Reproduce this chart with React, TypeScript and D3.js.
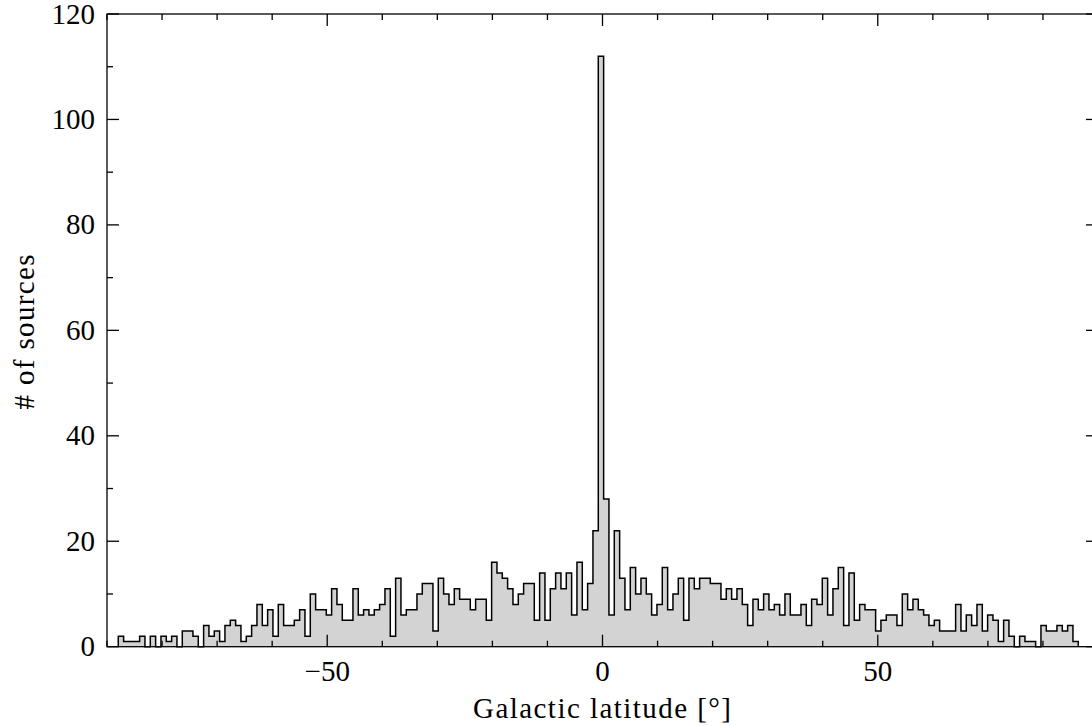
import React from 'react';
import * as d3 from 'd3';

// Histogram counts: 180 equal-width bins between binLo and binHi (degrees)
const counts: number[] = [
  2, 1, 1, 1, 2, 0, 2, 0, 2, 1, 2, 0, 3, 3, 2, 0,
  4, 2, 3, 1, 4, 5, 4, 1, 2, 4, 8, 4, 7, 2, 8, 4, 4, 5, 7, 2,
  10, 7, 7, 6, 11, 8, 5, 5, 11, 6, 7, 6, 7, 8, 11, 2, 13, 6, 7, 7,
  10, 12, 12, 3, 13, 10, 8, 11, 9, 9, 7, 9, 9, 5, 16, 14,
  13, 11, 8, 10, 12, 12, 5, 14, 5, 11, 14, 11, 14, 6, 16, 7, 12, 22,
  112,
  28, 6, 22, 13, 7, 15, 10, 13, 10, 6, 8, 15, 7, 10, 13, 5, 13, 11, 13, 13,
  12, 12, 9, 11, 9, 11, 8, 4,
  9, 7, 10, 7, 8, 6, 10, 6, 6, 8, 4, 9, 8, 13, 6,
  11, 15, 4, 14, 5, 8, 7, 7, 3, 5, 6, 6, 4, 10, 7, 9, 7, 6, 4, 5,
  3, 3, 3, 8, 3, 6, 4, 8, 3, 6, 5, 1, 5, 2, 0, 2, 1, 1, 0, 4,
  3, 3, 4, 3, 4, 1,
];
const binLo = -87.95;
const binHi = 86.42;

const xDomain: [number, number] = [-90, 90];
const yDomain: [number, number] = [0, 120];
const xMajorTicks = [-50, 0, 50];
const xMinorTicks = [-90, -80, -70, -60, -40, -30, -20, -10, 10, 20, 30, 40, 60, 70, 80, 90];
const yMajorTicks = [0, 20, 40, 60, 80, 100, 120];
const yMinorTicks = [10, 30, 50, 70, 90, 110];

const xLabel = 'Galactic latitude [°]';
const yLabel = '# of sources';

const fmt = (v: number) => (v < 0 ? '\u2212' + Math.abs(v) : String(v));

export default function App() {
  const W = 1092;
  const H = 726;
  const left = 107;
  const right = 1098;
  const top = 14;
  const bottom = 646.7;
  const x = d3.scaleLinear().domain(xDomain).range([left, right]);
  const y = d3.scaleLinear().domain(yDomain).range([bottom, top]);

  const n = counts.length;
  const edges = d3.range(n + 1).map((i) => binLo + ((binHi - binLo) * i) / n);
  const pts: [number, number][] = [];
  counts.forEach((c, i) => {
    pts.push([edges[i], c]);
    pts.push([edges[i + 1], c]);
  });
  const outlinePts: [number, number][] = [[edges[0], 0], ...pts, [edges[n], 0]];

  const area = d3
    .area<[number, number]>()
    .x((d) => x(d[0]))
    .y0(y(0))
    .y1((d) => y(d[1]));
  const line = d3
    .line<[number, number]>()
    .x((d) => x(d[0]))
    .y((d) => y(d[1]));

  const majorLen = 12;
  const minorLen = 6;
  const font = '"Liberation Serif", "DejaVu Serif", serif';
  const fs = 29;
  const axisStroke = 1.3;

  return (
    <svg
      width={W}
      height={H}
      style={{ position: 'absolute', left: 0, top: 0, background: '#fff' }}
      fontFamily={font}
    >
      <rect x={0} y={0} width={W} height={H} fill="#fff" />
      <path d={area(pts) || ''} fill="#d3d3d3" stroke="none" />
      <path d={line(outlinePts) || ''} fill="none" stroke="#000" strokeWidth={1.5} strokeLinejoin="miter" />

      {/* frame */}
      <rect x={left} y={top} width={right - left} height={bottom - top} fill="none" stroke="#000" strokeWidth={axisStroke} />

      {/* x ticks */}
      {xMajorTicks.map((t) => (
        <g key={'xM' + t}>
          <line x1={x(t)} x2={x(t)} y1={bottom} y2={bottom - majorLen} stroke="#000" strokeWidth={axisStroke} />
          <line x1={x(t)} x2={x(t)} y1={top} y2={top + majorLen} stroke="#000" strokeWidth={axisStroke} />
          <text x={x(t)} y={681} textAnchor="middle" fontSize={fs} fill="#000">
            {fmt(t)}
          </text>
        </g>
      ))}
      {xMinorTicks.map((t) => (
        <g key={'xm' + t}>
          <line x1={x(t)} x2={x(t)} y1={bottom} y2={bottom - minorLen} stroke="#000" strokeWidth={axisStroke} />
          <line x1={x(t)} x2={x(t)} y1={top} y2={top + minorLen} stroke="#000" strokeWidth={axisStroke} />
        </g>
      ))}

      {/* y ticks */}
      {yMajorTicks.map((t) => (
        <g key={'yM' + t}>
          <line x1={left} x2={left + majorLen} y1={y(t)} y2={y(t)} stroke="#000" strokeWidth={axisStroke} />
          <line x1={right} x2={right - majorLen} y1={y(t)} y2={y(t)} stroke="#000" strokeWidth={axisStroke} />
          <text x={95} y={y(t) + 9.5} textAnchor="end" fontSize={fs} fill="#000">
            {fmt(t)}
          </text>
        </g>
      ))}
      {yMinorTicks.map((t) => (
        <g key={'ym' + t}>
          <line x1={left} x2={left + minorLen} y1={y(t)} y2={y(t)} stroke="#000" strokeWidth={axisStroke} />
          <line x1={right} x2={right - minorLen} y1={y(t)} y2={y(t)} stroke="#000" strokeWidth={axisStroke} />
        </g>
      ))}

      {/* axis labels */}
      <text x={602} y={718} textAnchor="middle" fontSize={fs} fill="#000" textLength={258} lengthAdjust="spacing">
        {xLabel}
      </text>
      <text
        transform={`translate(34, ${332}) rotate(-90)`}
        textAnchor="middle"
        fontSize={fs}
        fill="#000"
        textLength={155}
        lengthAdjust="spacing"
      >
        {yLabel}
      </text>
    </svg>
  );
}
